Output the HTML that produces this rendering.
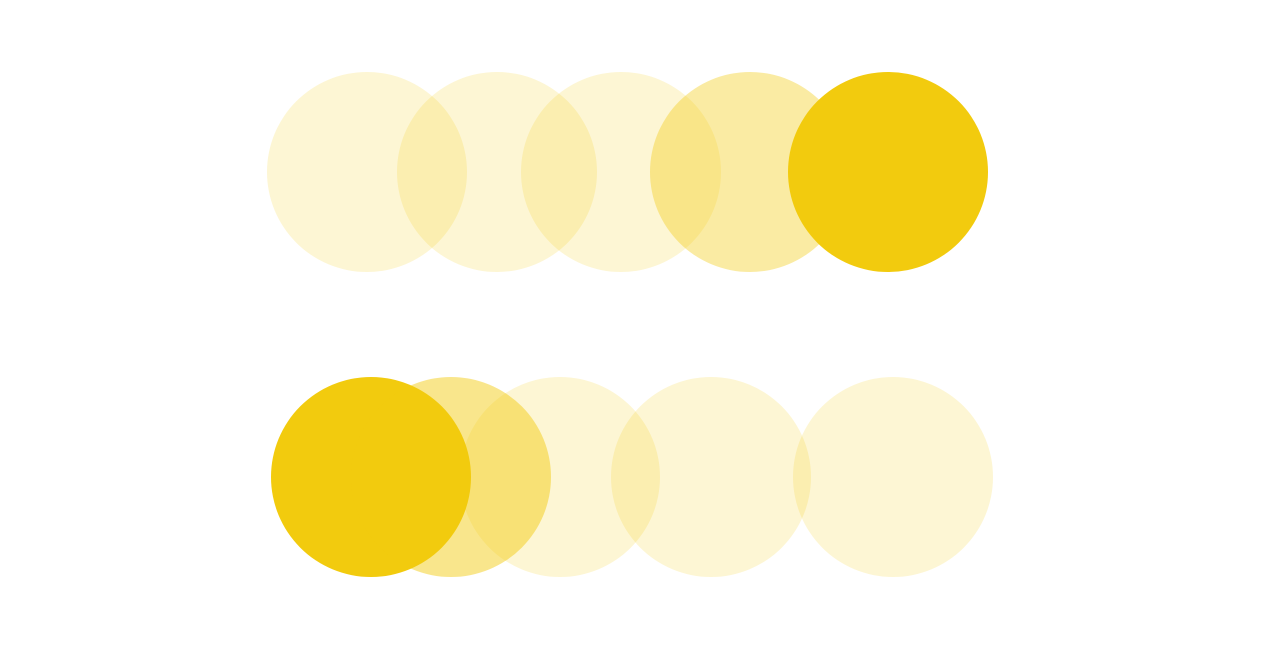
<!DOCTYPE html>
<html><head><meta charset="utf-8"><style>
html,body{margin:0;padding:0;background:#fff;width:1280px;height:670px;overflow:hidden;font-family:"Liberation Sans",sans-serif}
</style></head><body>
<svg id="chart" width="1280" height="670" viewBox="0 0 1280 670"></svg>
<script>
const topCenters = [367, 497, 621, 750, 888];
const topOpacity = [0.18, 0.18, 0.18, 0.38, 1];
const bottomCenters = [371, 451, 560, 711, 893];
const bottomOpacity = [1, 0.48, 0.18, 0.18, 0.18];
const rowNames = ['top-row', 'bottom-row'];

const svg = document.getElementById('chart');
const NS = 'http://www.w3.org/2000/svg';
const R = 100;
const rowY = i => i === 0 ? 172 : 477;
function drawRow(centers, ops, ri) {
  const g = document.createElementNS(NS, 'g');
  
  
  centers.forEach((cx, i) => {
    const c = document.createElementNS(NS, 'circle');
    c.setAttribute('cx', cx);
    c.setAttribute('cy', rowY(ri));
    c.setAttribute('r', R);
    c.setAttribute('fill', '#f2cb0e');
    c.setAttribute('fill-opacity', ops[i]);
    
    
    g.appendChild(c);
  });
  svg.appendChild(g);
}
drawRow(topCenters, topOpacity, 0);
drawRow(bottomCenters, bottomOpacity, 1);
</script>
</body></html>
